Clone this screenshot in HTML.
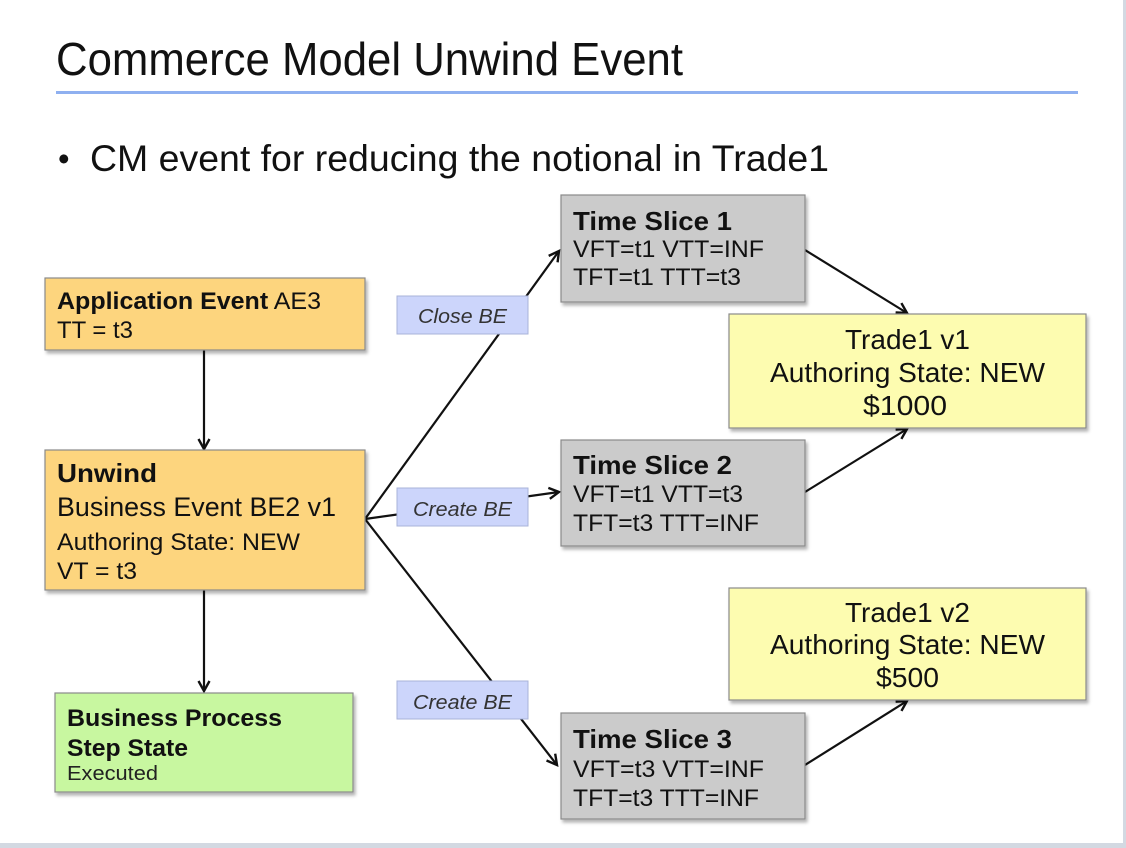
<!DOCTYPE html>
<html><head><meta charset="utf-8"><style>
html,body{margin:0;padding:0;background:#fff;}
svg{display:block;font-family:"Liberation Sans",Arial,sans-serif;}
</style></head><body>
<svg width="1126" height="848" viewBox="0 0 1126 848" xmlns="http://www.w3.org/2000/svg">
<defs>
<marker id="a" markerWidth="14" markerHeight="14" refX="11" refY="7" orient="auto" markerUnits="userSpaceOnUse">
<path d="M1,1.5 L11,7 L1,12.5" fill="none" stroke="#111" stroke-width="2.4"/>
</marker>
<filter id="s" x="-5%" y="-5%" width="115%" height="120%"><feDropShadow dx="2" dy="3" stdDeviation="1.5" flood-color="#000" flood-opacity="0.3"/></filter>
</defs>
<rect x="0" y="0" width="1126" height="848" fill="#fff"/>
<rect x="1123" y="0" width="3" height="848" fill="#d3d9e2"/>
<rect x="0" y="843" width="1126" height="5" fill="#d3d9e2"/>
<text x="56" y="75" font-size="46" fill="#111" textLength="627" lengthAdjust="spacingAndGlyphs">Commerce Model Unwind Event</text>
<rect x="56" y="91" width="1022" height="3" fill="#8fb0f0"/>
<text x="58" y="170" font-size="33" fill="#111">•</text>
<text x="90" y="171" font-size="37" fill="#111" textLength="739" lengthAdjust="spacingAndGlyphs">CM event for reducing the notional in Trade1</text>

<g stroke="#111" stroke-width="2.2" fill="none">
<line x1="204" y1="350" x2="204" y2="449" marker-end="url(#a)"/>
<line x1="204" y1="590" x2="204" y2="691" marker-end="url(#a)"/>
<line x1="365" y1="519" x2="559" y2="251" marker-end="url(#a)"/>
<line x1="365" y1="519" x2="559" y2="492" marker-end="url(#a)"/>
<line x1="365" y1="519" x2="557" y2="765" marker-end="url(#a)"/>
<line x1="805" y1="250" x2="907" y2="313" marker-end="url(#a)"/>
<line x1="805" y1="492" x2="907" y2="429" marker-end="url(#a)"/>
<line x1="805" y1="765" x2="907" y2="701" marker-end="url(#a)"/>
</g>

<g filter="url(#s)" stroke="#8a8a8a" stroke-width="1.2">
<rect x="45" y="278" width="320" height="72" fill="#fdd57e"/>
<rect x="45" y="450" width="320" height="140" fill="#fdd57e"/>
<rect x="55" y="693" width="298" height="99" fill="#c8f7a0"/>
<rect x="561" y="195" width="244" height="107" fill="#cbcbcb"/>
<rect x="561" y="440" width="244" height="106" fill="#cbcbcb"/>
<rect x="561" y="713" width="244" height="106" fill="#cbcbcb"/>
<rect x="729" y="314" width="357" height="114" fill="#fdfcb0"/>
<rect x="729" y="588" width="357" height="112" fill="#fdfcb0"/>
</g>
<g stroke="#a9b3d8" stroke-width="1" fill="#ccd5fb">
<rect x="397" y="296" width="131" height="38"/>
<rect x="397" y="488" width="131" height="38"/>
<rect x="397" y="681" width="131" height="38"/>
</g>
<g font-size="20" font-style="italic" fill="#333" lengthAdjust="spacingAndGlyphs">
<text x="418" y="323" textLength="89" lengthAdjust="spacingAndGlyphs">Close BE</text>
<text x="413" y="516" textLength="99" lengthAdjust="spacingAndGlyphs">Create BE</text>
<text x="413" y="709" textLength="99" lengthAdjust="spacingAndGlyphs">Create BE</text>
</g>

<g fill="#111" font-size="24">
<text x="57" y="309" textLength="264" lengthAdjust="spacingAndGlyphs"><tspan font-weight="bold">Application Event</tspan> AE3</text>
<text x="57" y="338" textLength="76" lengthAdjust="spacingAndGlyphs">TT = t3</text>
<text x="57" y="482" font-weight="bold" font-size="26" textLength="100" lengthAdjust="spacingAndGlyphs">Unwind</text>
<text x="57" y="516" font-size="27" textLength="279" lengthAdjust="spacingAndGlyphs">Business Event BE2 v1</text>
<text x="57" y="550" textLength="243" lengthAdjust="spacingAndGlyphs">Authoring State: NEW</text>
<text x="57" y="579" textLength="80" lengthAdjust="spacingAndGlyphs">VT = t3</text>
<text x="67" y="726" font-weight="bold" textLength="215" lengthAdjust="spacingAndGlyphs">Business Process</text>
<text x="67" y="756" font-weight="bold" textLength="121" lengthAdjust="spacingAndGlyphs">Step State</text>
<text x="67" y="780" font-size="20" fill="#222" textLength="91" lengthAdjust="spacingAndGlyphs">Executed</text>

<text x="573" y="230" font-weight="bold" font-size="26" textLength="159" lengthAdjust="spacingAndGlyphs">Time Slice 1</text>
<text x="573" y="257" textLength="191" lengthAdjust="spacingAndGlyphs">VFT=t1 VTT=INF</text>
<text x="573" y="285" textLength="168" lengthAdjust="spacingAndGlyphs">TFT=t1 TTT=t3</text>
<text x="573" y="474" font-weight="bold" font-size="26" textLength="159" lengthAdjust="spacingAndGlyphs">Time Slice 2</text>
<text x="573" y="502" textLength="170" lengthAdjust="spacingAndGlyphs">VFT=t1 VTT=t3</text>
<text x="573" y="531" textLength="186" lengthAdjust="spacingAndGlyphs">TFT=t3 TTT=INF</text>
<text x="573" y="748" font-weight="bold" font-size="26" textLength="159" lengthAdjust="spacingAndGlyphs">Time Slice 3</text>
<text x="573" y="777" textLength="191" lengthAdjust="spacingAndGlyphs">VFT=t3 VTT=INF</text>
<text x="573" y="806" textLength="186" lengthAdjust="spacingAndGlyphs">TFT=t3 TTT=INF</text>
</g>
<g fill="#111" font-size="28">
<text x="845" y="349" textLength="125" lengthAdjust="spacingAndGlyphs">Trade1 v1</text>
<text x="770" y="382" textLength="275" lengthAdjust="spacingAndGlyphs">Authoring State: NEW</text>
<text x="863" y="415" textLength="84" lengthAdjust="spacingAndGlyphs">$1000</text>
<text x="845" y="622" textLength="125" lengthAdjust="spacingAndGlyphs">Trade1 v2</text>
<text x="770" y="654" textLength="275" lengthAdjust="spacingAndGlyphs">Authoring State: NEW</text>
<text x="876" y="687" textLength="63" lengthAdjust="spacingAndGlyphs">$500</text>
</g>
</svg>
</body></html>
